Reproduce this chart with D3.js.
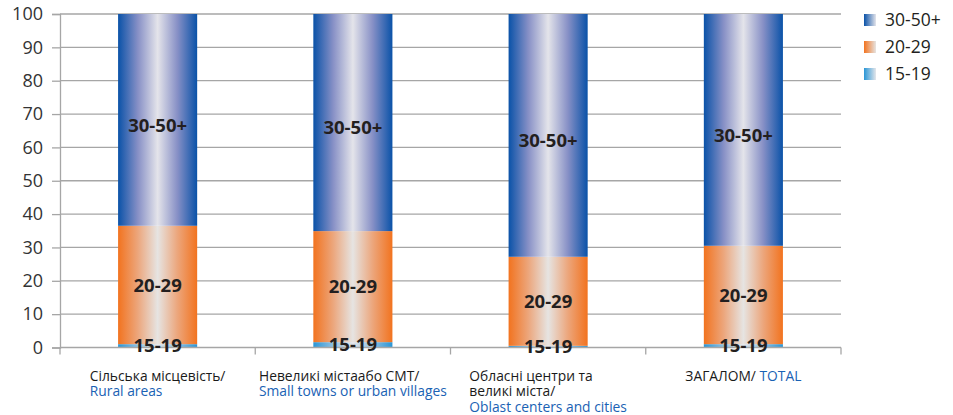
<!DOCTYPE html>
<html>
<head>
<meta charset="utf-8">
<script src="https://cdn.jsdelivr.net/npm/d3@7"></script>
<style>
  body { margin: 0; background: #fff; }
  svg { display: block; }
</style>
</head>
<body>
<svg id="chart" width="953" height="415"></svg>
<script>
// Age structure by settlement type, percent
const categoriesUa = ["Сільська місцевість/", "Невеликі містаабо СМТ/", "Обласні центри та|великі міста/", "ЗАГАЛОМ/"];
const categoriesEn = ["Rural areas", "Small towns or urban villages", "Oblast centers and cities", "TOTAL"];
const seriesNames = ["15-19", "20-29", "30-50+"];
const age15_19 = [1.0, 1.6, 0.5, 1.0];
const age20_29 = [35.5, 33.3, 26.7, 29.5];
const age30_50 = [63.5, 65.1, 72.8, 69.5];
const yTicks = [0, 10, 20, 30, 40, 50, 60, 70, 80, 90, 100];

const seriesValues = [age15_19, age20_29, age30_50];
const palette = {
  "15-19": { edge: "#2a96d6", mid: "#e4e6ea", quarter: "#8dbfe2" },
  "20-29": { edge: "#f2731f", mid: "#e6e4e2", quarter: "#eca67c" },
  "30-50+": { edge: "#0a52a8", mid: "#e4e4ea", quarter: "#8790c6" }
};

const svg = d3.select("#chart");
const margin = { left: 60, right: 112, top: 14, bottom: 67.5 };
const W = 953, H = 415;
const x = d3.scaleBand().domain(d3.range(categoriesUa.length)).range([margin.left, W - margin.right]).paddingInner(0.595).paddingOuter(0.2975);
const y = d3.scaleLinear().domain([0, 100]).range([H - margin.bottom, margin.top]);

const defs = svg.append("defs");
seriesNames.forEach((name, i) => {
  const c = palette[name];
  const g = defs.append("linearGradient").attr("id", "bar" + i).attr("x1", "0%").attr("x2", "100%").attr("y1", "0%").attr("y2", "0%");
  [[0, c.edge], [0.25, c.quarter], [0.5, c.mid], [0.75, c.quarter], [1, c.edge]].forEach(([o, col]) =>
    g.append("stop").attr("offset", o).attr("stop-color", col));
  const l = defs.append("linearGradient").attr("id", "leg" + i).attr("x1", "0%").attr("x2", "100%");
  l.append("stop").attr("offset", 0).attr("stop-color", c.edge);
  l.append("stop").attr("offset", 1).attr("stop-color", c.mid);
});

// gridlines
svg.append("g").selectAll("line").data(yTicks.filter(t => t > 0)).join("line")
  .attr("x1", margin.left).attr("x2", W - margin.right)
  .attr("y1", d => y(d)).attr("y2", d => y(d))
  .attr("stroke", "#a6a6a6").attr("stroke-width", 1.3);

// y axis
const yAxis = svg.append("g").attr("transform", `translate(${margin.left},0)`)
  .call(d3.axisLeft(y).tickValues(yTicks).tickSize(8).tickPadding(9));
yAxis.select(".domain").attr("stroke", "#a6a6a6").attr("stroke-width", 1.3);
yAxis.selectAll(".tick line").attr("stroke", "#a6a6a6").attr("stroke-width", 1.3);
yAxis.selectAll(".tick text").attr("font-family", "Open Sans").attr("font-size", 18).attr("fill", "#333");

// stacked bars
const stacked = categoriesUa.map((_, ci) => {
  let base = 0;
  return seriesValues.map((vals, si) => {
    const seg = { ci, si, y0: base, y1: base + vals[ci] };
    base += vals[ci];
    return seg;
  });
}).flat();

svg.append("g").selectAll("rect").data(stacked).join("rect")
  .attr("x", d => x(d.ci)).attr("width", x.bandwidth())
  .attr("y", d => y(d.y1)).attr("height", d => y(d.y0) - y(d.y1))
  .attr("fill", d => `url(#bar${d.si})`);

// x axis baseline and boundary ticks
const bottom = y(0);
const bounds = d3.range(categoriesUa.length + 1).map(i => margin.left + i * (W - margin.left - margin.right) / categoriesUa.length);
svg.append("line").attr("x1", margin.left).attr("x2", W - margin.right).attr("y1", bottom).attr("y2", bottom)
  .attr("stroke", "#a6a6a6").attr("stroke-width", 1.3);
svg.append("g").selectAll("line").data(bounds).join("line")
  .attr("x1", d => d).attr("x2", d => d).attr("y1", bottom).attr("y2", bottom + 7)
  .attr("stroke", "#a6a6a6").attr("stroke-width", 1.3);

// segment labels (top segment label sits a little below its middle)
svg.append("g").selectAll("text").data(stacked).join("text")
  .attr("x", d => x(d.ci) + x.bandwidth() / 2)
  .attr("y", d => (y(d.y0) + y(d.y1)) / 2 + (d.si === 2 ? 5 : 0))
  .attr("dy", "0.36em")
  .attr("text-anchor", "middle")
  .attr("font-family", "Open Sans").attr("font-weight", "bold").attr("font-size", 18.5)
  .attr("fill", "#231f20")
  .text(d => seriesNames[d.si]);

// category labels: lines left-aligned inside a centered block
const catG = svg.append("g").attr("font-family", "Open Sans").attr("font-size", 13.8);
categoriesUa.forEach((ua, ci) => {
  const cx = x(ci) + x.bandwidth() / 2;
  const t = catG.append("text").attr("y", 381);
  const uaLines = ua.split("|");
  const single = categoriesEn[ci] === "TOTAL";
  if (single) {
    t.append("tspan").attr("fill", "#1a1a1a").text(uaLines[0] + " ");
    t.append("tspan").attr("fill", "#1a62b4").text(categoriesEn[ci]);
  } else {
    uaLines.forEach((ln, li) => t.append("tspan").attr("x", 0).attr("dy", li === 0 ? 0 : 15.3).attr("fill", "#1a1a1a").text(ln));
    t.append("tspan").attr("x", 0).attr("dy", 15.3).attr("fill", "#1a62b4").text(categoriesEn[ci]);
  }
  const w = t.node().getBBox().width;
  const left = cx - w / 2;
  t.attr("x", left);
  t.selectAll("tspan").filter(function () { return this.hasAttribute("x"); }).attr("x", left);
});

// legend, top entry is the top segment
const legOrder = [2, 1, 0];
const leg = svg.append("g");
legOrder.forEach((si, k) => {
  const gy = 20 + k * 27;
  leg.append("rect").attr("x", 864).attr("y", gy - 6).attr("width", 12).attr("height", 12).attr("fill", `url(#leg${si})`);
  leg.append("text").attr("x", 885).attr("y", gy).attr("dy", "0.36em")
    .attr("font-family", "Open Sans").attr("font-size", 17.5).attr("fill", "#231f20").text(seriesNames[si]);
});
</script>
</body>
</html>
